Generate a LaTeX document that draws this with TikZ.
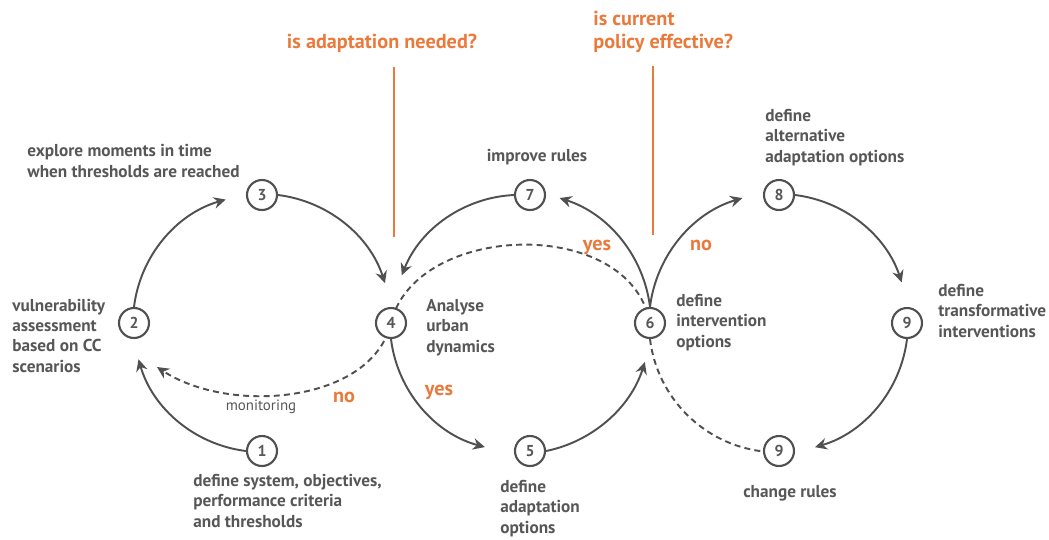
\documentclass[tikz,border=0pt]{standalone}
\usepackage{fontspec}
\setmainfont{PT Sans}
\usetikzlibrary{arrows.meta,backgrounds}
\definecolor{ln}{HTML}{505050}
\definecolor{tx}{HTML}{575757}
\definecolor{og}{HTML}{EA7A3C}
\begin{document}
\begin{tikzpicture}[x=0.02cm,y=0.02cm,
  num/.style={circle,draw=ln,line width=1.2pt,fill=white,minimum size=0.6cm,inner sep=0pt,
    font=\fontsize{9}{10}\selectfont\bfseries,text=tx},
  lbl/.style={font=\fontsize{9.8}{11.4}\selectfont\bfseries,text=tx,align=left,inner sep=0pt},
  qlbl/.style={font=\fontsize{11.5}{13}\selectfont\bfseries,text=og,inner sep=0pt,align=left},
  mlbl/.style={font=\fontsize{8.5}{10}\selectfont,text=tx,inner sep=0pt},
  flow/.style={draw=ln,line width=1.1pt,-{Stealth[length=2.4mm,width=2.3mm,inset=0.8mm]}},
  dflow/.style={flow,dash pattern=on 3.4pt off 2.4pt},
  dline/.style={draw=ln,line width=1.1pt,dash pattern=on 3.4pt off 2.4pt},
  qline/.style={draw=og,line width=0.85pt}
]
\useasboundingbox (0,0) rectangle (1049,-539);

% numbered circles
\node[num] (n1) at (262,-451) {1};
\node[num] (n2) at (134,-323) {2};
\node[num] (n3) at (262,-195) {3};
\node[num] (n4) at (391,-323) {4};
\node[num] (n5) at (530,-451) {5};
\node[num] (n6) at (650,-323) {6};
\node[num] (n7) at (530,-195) {7};
\node[num] (n8) at (779,-195) {8};
\node[num] (n9) at (907,-323) {9};
\node[num] (n9b) at (779,-451) {9};

% free ends
\coordinate (mon) at (157,-367);
\coordinate (q1top) at (394,-67);
\coordinate (q1bot) at (394,-237);
\coordinate (q2top) at (653,-66);
\coordinate (q2bot) at (653,-235);

\begin{pgfonlayer}{background}
% left loop
\draw[flow] (n1.west) arc[start angle=-97, end angle=-164, radius=2.56cm];
\draw[flow] (n2.north) arc[start angle=173, end angle=106, radius=2.56cm];
\draw[flow] (n3.east) arc[start angle=83, end angle=18, radius=2.58cm];
% middle loop
\draw[flow] (n7.west) arc[start angle=92.7, end angle=158.5, radius=2.54cm];
\draw[flow] (n4.south) arc[start angle=187, end angle=255, radius=2.56cm];
\draw[flow] (n5.east) arc[start angle=-78.5, end angle=-17.5, radius=2.62cm];
\draw[flow] (n6.north) arc[start angle=7, end angle=72.4, radius=2.62cm];
% right loop
\draw[flow] (n6.north) arc[start angle=173, end angle=106.4, radius=2.6cm];
\draw[flow] (n8.east) arc[start angle=83, end angle=18.4, radius=2.58cm];
\draw[flow] (n9.south) arc[start angle=-7, end angle=-73.8, radius=2.58cm];
% dashed feedback
\draw[dline] (n6.south) arc[start angle=187, end angle=263, radius=2.58cm];
\draw[dflow] (n6.center) .. controls (630,-215) and (415,-222) .. (n4.center)
  .. controls (372,-403) and (230,-415) .. (mon);
% question lines
\draw[qline] (q1top) -- (q1bot);
\draw[qline] (q2top) -- (q2bot);
\end{pgfonlayer}

% labels (base = baseline of last line)
\node[lbl,anchor=base west] (t3) at (27,-177) {explore moments in time\\when thresholds are reached};
\node[lbl,anchor=base west] (t2) at (12,-372) {vulnerability\\assessment\\based on CC\\scenarios};
\node[lbl,anchor=base west] (t1) at (193,-527) {define system, objectives,\\performance criteria\\and thresholds};
\node[lbl,anchor=base west] (t5) at (500,-533) {define\\adaptation\\options};
\node[lbl,anchor=base] (t9b) at (790,-497) {change rules};
\node[lbl,anchor=base west] (t4) at (426,-352) {Analyse\\urban\\dynamics};
\node[lbl,anchor=base] (t7) at (537,-161) {improve rules};
\node[lbl,anchor=base west] (t6) at (676,-347) {define\\intervention\\options};
\node[lbl,anchor=base west] (t8) at (765,-162) {define\\alternative\\adaptation options};
\node[lbl,anchor=base west] (t9) at (938,-337) {define\\transformative\\interventions};

\node[qlbl,anchor=base] (qa) at (382,-48) {is adaptation needed?};
\node[qlbl,anchor=base west] (qb) at (593,-48) {is current\\policy effective?};

\node[mlbl,anchor=base] (mt) at (261,-410) {monitoring};
\node[qlbl,anchor=base] (no1) at (344,-402) {no};
\node[qlbl,anchor=base] (yes1) at (439,-395) {yes};
\node[qlbl,anchor=base] (yes2) at (597,-250) {yes};
\node[qlbl,anchor=base] (no2) at (701,-250) {no};
\end{tikzpicture}
\end{document}
